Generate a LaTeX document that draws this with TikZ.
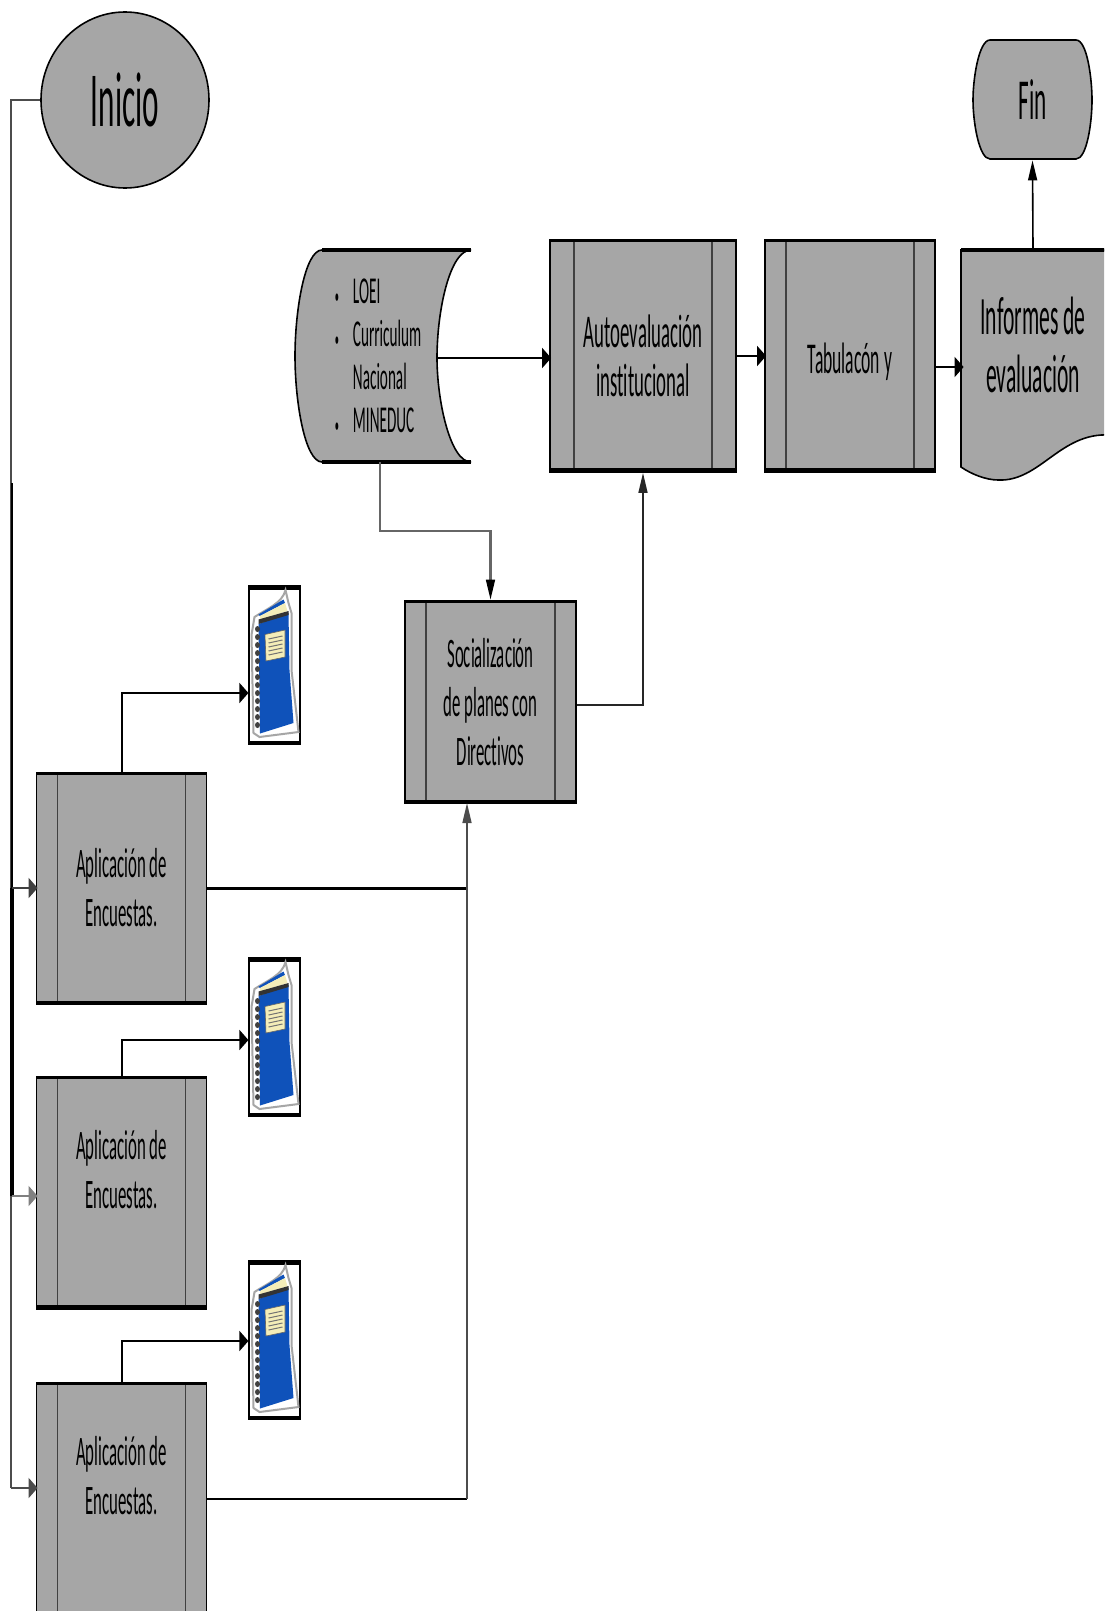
\documentclass[tikz,border=0pt]{standalone}
\usepackage{fontspec}
\usetikzlibrary{arrows.meta, positioning, shapes.geometric}
\newfontfamily\narrowfont[FakeStretch=0.4, Ligatures=NoCommon]{Carlito}
\newcommand{\sized}[2]{\narrowfont\fontsize{#1}{#2}\selectfont}
\newcommand{\listdot}{\scalebox{0.55}{\textbullet}}
\definecolor{shapegray}{HTML}{A6A6A6}
\definecolor{bookblue}{HTML}{0F52BA}
\definecolor{bookpage}{HTML}{F4EDB8}

\begin{document}
\begin{tikzpicture}[x=0.5pt, y=-0.5pt,
  sidegap/.store in=\sidegap, sidegap=10.5pt,
  proc/.style={draw, line width=0.9pt, fill=shapegray, minimum width=#1, minimum height=116pt,
               inner sep=0pt, align=center,
               path picture={
                 \draw[line width=0.6pt, black!75]
                   ([xshift=\sidegap]path picture bounding box.north west) --
                   ([xshift=\sidegap]path picture bounding box.south west)
                   ([xshift=-\sidegap]path picture bounding box.north east) --
                   ([xshift=-\sidegap]path picture bounding box.south east);
                 \draw[line width=4pt]
                   (path picture bounding box.south west) -- (path picture bounding box.south east);
                 \draw[line width=2pt]
                   (path picture bounding box.north west) -- (path picture bounding box.north east);}},
  flowfill/.style={fill=shapegray, draw, line width=0.8pt},
  plain/.style={inner sep=0pt, align=center},
  harr/.style={-{Stealth[length=4.5pt, width=10pt, inset=0pt]}, line width=1pt},
  varr/.style={-{Stealth[length=10pt, width=4.5pt, inset=0pt]}, line width=0.8pt},
  link/.style={line width=1.2pt},
  bookbox/.style={draw, line width=0.6pt, fill=white, minimum width=25.5pt, minimum height=79pt, inner sep=0pt,
               path picture={
                 \draw[line width=3.5pt]
                   (path picture bounding box.south west) -- (path picture bounding box.south east)
                   (path picture bounding box.north west) -- (path picture bounding box.north east);}},
  book/.pic={
    \draw[line width=1pt, black!35, fill=white]
      (-20,-48) .. controls (-8,-56) and (8,-62) .. (11,-75) -- (14,-62) -- (17,-52)
      -- (17,5) -- (24,67) -- (-15,72) -- (-21,68) -- (-23,-30) -- cycle;
    \fill[bookblue] (-16,-50.5) -- (9,-65.5) -- (10.5,-62) -- (-14.5,-49) -- cycle;
    \fill[bookpage] (-14.5,-49) -- (10.5,-62) -- (13,-54) -- (-14.5,-45.5) -- cycle;
    \fill[bookblue] (-16,-41) -- (14,-52) -- (15,5) -- (19,58) -- (-14.5,68.5) -- cycle;
    \fill[black!80] (-16,-45.5) -- (14,-54) -- (14,-50) -- (-16,-41) -- cycle;
    \fill[bookpage, draw=black!60, line width=0.3pt] (-9.5,-30.5) -- (10.5,-35) -- (10.5,-8) -- (-8.5,-4) -- cycle;
    \foreach \ly in {-26,-22,-18,-14,-10}
      \draw[line width=0.5pt, black!55] (-6,\ly) -- (8,\ly-3);
    \foreach \sy in {-36,-28,...,62}
      \fill[black!75] (-17,\sy) ellipse (2.5 and 3);
  }
]
\useasboundingbox (0,0) rectangle (1104,1611);
\clip (0,0) rectangle (1104,1611);

\node[ellipse, flowfill, minimum width=84pt, minimum height=88pt, inner sep=0pt, font=\sized{39}{42}]
  (inicio) at (125,100) {Inicio};

% shapes with bent sides
\path[flowfill] (990,40) -- (1076,40) .. controls (1087,40) and (1092,78) .. (1092,100)
  .. controls (1092,122) and (1087,159) .. (1076,159) -- (990,159)
  .. controls (979,159) and (973,122) .. (973,100) .. controls (973,78) and (979,40) .. (990,40) -- cycle;
\node[plain, minimum width=59.5pt, minimum height=60pt, font=\sized{29}{30}] (fin) at (1032.5,100) {Fin};

\path[flowfill] (471,250) -- (322,250) .. controls (305,250) and (295,310) .. (295,356)
  .. controls (295,402) and (305,462) .. (322,462) -- (471,462)
  .. controls (450,462) and (437,400) .. (437,358) .. controls (437,310) and (450,250) .. (471,250) -- cycle;
\draw[line width=1.6pt] (322,250) -- (471,250) (322,462) -- (471,462);
\node[plain, minimum width=71pt, minimum height=106pt, font=\sized{19}{21.5}] (marco) at (378,359)
  {\begin{tabular}{@{}l@{\hspace{7pt}}l@{}}
    \listdot & LOEI\\ \listdot & Curriculum\\ & Nacional\\ \listdot & MINEDUC
   \end{tabular}};

\path[flowfill] (961,250) -- (1110,250) -- (1110,435) .. controls (1060,432) and (1040,482) .. (998,480)
  .. controls (986,480) and (971,474) .. (961,467) -- cycle;
\draw[line width=2pt] (961,250) -- (1110,250);
\node[plain, minimum width=71pt, minimum height=96pt, font=\sized{27}{29}] (informes) at (1033,345)
  {Informes de\\evaluación};

\node[proc=93pt, sidegap=12pt, font=\sized{23.5}{24.5}]  (auto) at (643,356) {Autoevaluación\\institucional};
\node[proc=85pt, text depth=0pt, font=\sized{22}{24.5}]  (tab)  at (850,356) {\raisebox{-2pt}{Tabulacón y}};
\node[proc=85.5pt, minimum height=101.5pt, font=\sized{21}{24.5}] (soc) at (490.5,702)
  {Socialización\\de planes con\\Directivos};

\node[proc=85pt] (enc1) at (121.5,888.5) {};
\node[proc=85pt] (enc2) at (121.5,1193)  {};
\node[proc=85pt] (enc3) at (121.5,1499)  {};
\node[plain, font=\sized{21}{24.5}] (enctxta) at (121.5,887.5) {Aplicación de\\Encuestas.};
\node[plain, font=\sized{21}{24.5}] (enctxtb) at (121.5,1170)  {Aplicación de\\Encuestas.};
\node[plain, font=\sized{21}{24.5}] (enctxtc) at (121.5,1476)  {Aplicación de\\Encuestas.};

\node[bookbox] (book1) at (274.5,665)  {};
\node[bookbox] (book2) at (274.5,1037) {};
\node[bookbox] (book3) at (274.5,1340) {};
\pic at (book1) {book};
\pic at (book2) {book};
\pic at (book3) {book};

\coordinate (trunktop) at (11,100);
\coordinate (trunkdark) at (12,483);
\coordinate (trunka) at (12,888);
\coordinate (trunkb) at (12,1196);
\coordinate (trunkc) at (11,1488);
\coordinate (docout) at (380,462);
\coordinate (docbend) at (380,531);
\coordinate (docarc) at (437,358);
\coordinate (socin) at (467,803);
\coordinate (tabout) at (934,367);

% left trunk
\draw[line width=0.6pt, black!70] (inicio.west) -- (trunktop) -- (trunkc);
\draw[line width=1pt] (trunkdark) -- (trunka);
\draw[line width=1.8pt] (trunka) -- (trunkb);
\draw[harr, black!75] (trunka) -- ([xshift=1pt]enc1.west |- trunka);
\draw[harr, black!50] (trunkb) -- ([xshift=1pt]enc2.west |- trunkb);
\draw[harr, black!70] (trunkc) -- ([xshift=1pt]enc3.west |- trunkc);

\draw[harr] (enc1.north) |- ([yshift=-14pt]book1.west);
\draw[harr] (enc2.north) |- ([yshift=-1.5pt]book2.west);
\draw[harr] (enc3.north) |- ([yshift=-0.5pt]book3.west);

\draw[link] (enc1.east) -- (socin |- enc1.east);
\draw[link] (enc3.east) -- (socin |- enc3.east);
\draw[varr, black!70] (socin |- enc3.east) -- (socin);

\draw[varr, black!85] ([yshift=-1.5pt]soc.east) -| (auto.south);
\draw[link, black!60] (docout) -- (docbend) -| ([yshift=5pt]soc.north);
\draw[varr] ([yshift=6pt]soc.north) -- (soc.north);

\draw[harr] (docarc) -- ([xshift=1pt]auto.west |- docarc);
\draw[harr] (auto.east) -- ([xshift=1pt]tab.west);
\draw[harr] (tabout) -- ([xshift=1pt]informes.west |- tabout);
\draw[varr] (informes.north) -- (fin.south);
\end{tikzpicture}
\end{document}
